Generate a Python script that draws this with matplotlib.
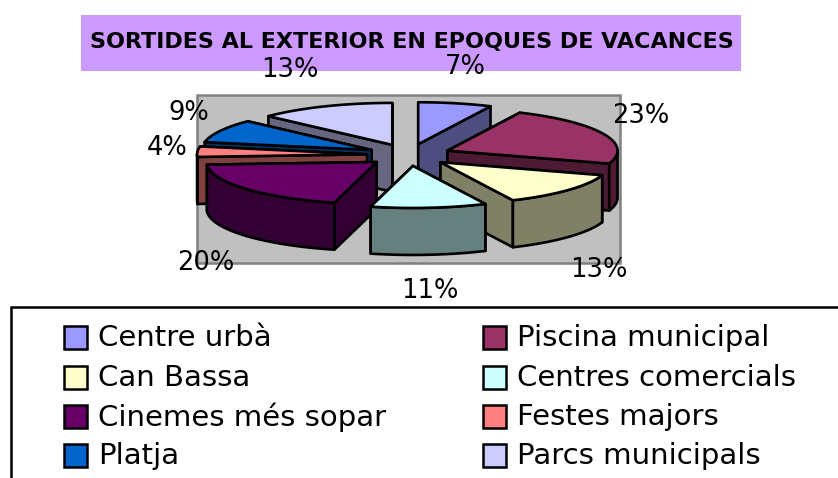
import matplotlib
matplotlib.use('Agg')
import matplotlib.pyplot as plt
from matplotlib.patches import Polygon, Rectangle
import numpy as np

categories = ['Centre urbà', 'Piscina municipal', 'Can Bassa', 'Centres comercials',
              'Cinemes més sopar', 'Festes majors', 'Platja', 'Parcs municipals']
values = [7, 23, 13, 11, 20, 4, 9, 13]
colors = ['#9999FF', '#993366', '#FFFFCC', '#CCFFFF', '#660066', '#FF8080', '#0066CC', '#CCCCFF']
title = 'SORTIDES AL EXTERIOR EN EPOQUES DE VACANCES'

# layout, in picture pixels
label_pos = [(465, 67), (641, 116), (599, 270), (430, 291), (206, 263), (167, 148), (189, 113), (290, 70)]
cx, cy = 409, 155
rx, ry = 170, 42
ex, ey = 42, 11
depth = 47
draw_order = [7, 0, 6, 5, 1, 4, 2, 3]

plt.rcParams['font.family'] = ['DejaVu Sans']
fig = plt.figure(figsize=(8.38, 4.78), dpi=100)
ax = fig.add_axes([0, 0, 1, 1])
ax.set_xlim(0, 838)
ax.set_ylim(478, 0)
ax.axis('off')

# title bar and plot wall
ax.add_patch(Rectangle((81, 15), 660, 56, fc='#CC99FF', ec='none'))
ax.text(412, 42, title, ha='center', va='center', fontsize=16, fontweight='bold', zorder=20)
ax.add_patch(Rectangle((197, 95), 423, 168, fc='#C0C0C0', ec='#808080', lw=1.8))


def arc(x0, y0, a0, a1):
    t = np.radians(np.linspace(a0, a1, 40))
    return np.column_stack([x0 + rx * np.sin(t), y0 - ry * np.cos(t)])


def face(pts, color, z):
    ax.add_patch(Polygon(pts, closed=True, fc=color, ec='black', lw=1.9, joinstyle='round', zorder=z))


edges = np.cumsum([0] + values) * 3.6
down = np.array([0, depth])
z = 2
for i in draw_order:
    a0, a1 = edges[i], edges[i + 1]
    mid = np.radians((a0 + a1) / 2)
    tip = np.array([cx + ex * np.sin(mid), cy - ey * np.cos(mid)])
    top = arc(tip[0], tip[1], a0, a1)
    side = tuple(np.array(matplotlib.colors.to_rgb(colors[i])) * 0.5)

    # radial faces, the one further back first
    ends = sorted([top[0], top[-1]], key=lambda p: p[1])
    for p in ends:
        face([tip, p, p + down, tip + down], side, z)
        z += 1

    # rim only where it faces the viewer
    b0, b1 = max(a0, 90), min(a1, 270)
    if b1 > b0:
        rim = arc(tip[0], tip[1], b0, b1)
        face(np.vstack([rim, (rim + down)[::-1]]), side, z)
        z += 1

    face(np.vstack([tip, top]), colors[i], z)
    z += 1

for v, (x, y) in zip(values, label_pos):
    ax.text(x, y, f'{v}%', ha='center', va='center', fontsize=18.5, zorder=30)

# legend box runs off the picture on the right and bottom
ax.plot([11, 11, 838], [478, 307, 307], color='black', lw=1.8, solid_joinstyle='miter', zorder=5)
row_y = [338, 378, 417, 456]
col_x = [64, 483]
for i, name in enumerate(categories):
    x = col_x[i % 2]
    y = row_y[i // 2]
    ax.add_patch(Rectangle((x, y - 12), 23, 23, fc=colors[i], ec='black', lw=1.8))
    ax.text(x + 34, y, name, ha='left', va='center', fontsize=21)

fig.savefig('out.png', dpi=100)
